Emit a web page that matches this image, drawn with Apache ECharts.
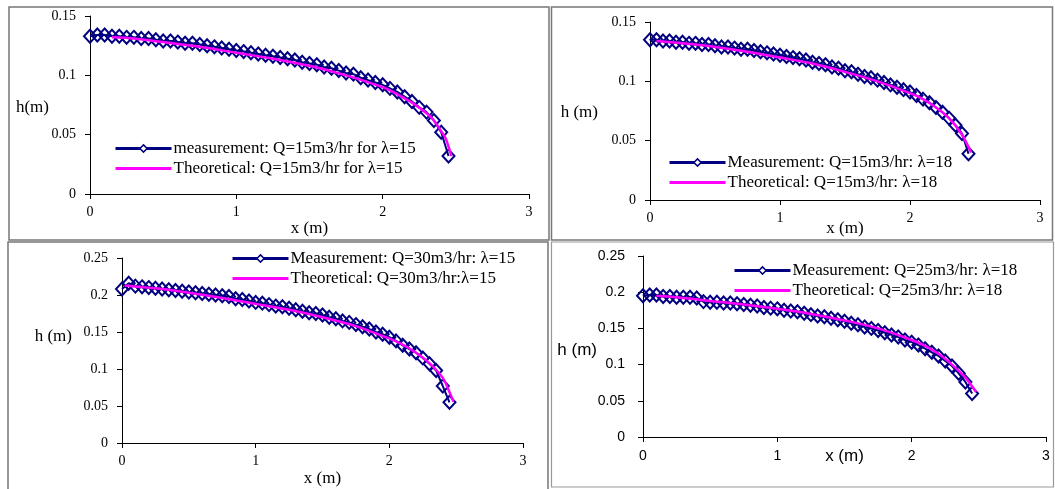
<!DOCTYPE html>
<html>
<head>
<meta charset="utf-8">
<script src="https://cdn.jsdelivr.net/npm/echarts@6/dist/echarts.min.js"></script>
<style>
  html, body { margin: 0; padding: 0; background: #fff; }
  #chart { width: 1055px; height: 489px; }
</style>
</head>
<body>
<div id="chart"></div>
<script>
// Measured stations along the channel (m)
const xMeas = [0, 0.05, 0.10, 0.15, 0.20, 0.25, 0.30, 0.35, 0.40, 0.45,
  0.50, 0.55, 0.60, 0.65, 0.70, 0.75, 0.80, 0.85, 0.90, 0.95,
  1.00, 1.05, 1.10, 1.15, 1.20, 1.25, 1.30, 1.35, 1.40, 1.45,
  1.50, 1.55, 1.60, 1.65, 1.70, 1.75, 1.80, 1.85, 1.90, 1.95,
  2.00, 2.05, 2.10, 2.15, 2.20, 2.25, 2.30, 2.35, 2.40, 2.45];

// Measured depth h (m), Q=15 m3/hr, λ=15
const hMeas15a = [0.133, 0.134, 0.134, 0.133, 0.133, 0.132, 0.132, 0.131, 0.131, 0.130,
  0.129, 0.129, 0.128, 0.127, 0.127, 0.126, 0.125, 0.124, 0.123, 0.122,
  0.121, 0.120, 0.119, 0.118, 0.117, 0.116, 0.115, 0.114, 0.113, 0.111,
  0.110, 0.109, 0.107, 0.106, 0.104, 0.102, 0.101, 0.098, 0.096, 0.094,
  0.092, 0.089, 0.086, 0.082, 0.078, 0.073, 0.069, 0.062, 0.052, 0.032];
// Measured depth h (m), Q=15 m3/hr, λ=18
const hMeas15b = [0.135, 0.135, 0.134, 0.134, 0.133, 0.133, 0.132, 0.132, 0.131, 0.131,
  0.130, 0.129, 0.129, 0.128, 0.127, 0.127, 0.126, 0.125, 0.124, 0.123,
  0.122, 0.121, 0.120, 0.119, 0.118, 0.116, 0.115, 0.114, 0.112, 0.111,
  0.109, 0.108, 0.106, 0.104, 0.103, 0.101, 0.099, 0.097, 0.095, 0.093,
  0.091, 0.088, 0.085, 0.082, 0.078, 0.074, 0.069, 0.063, 0.056, 0.039];
// Measured depth h (m), Q=30 m3/hr, λ=15
const hMeas30 = [0.208, 0.216, 0.212, 0.211, 0.210, 0.209, 0.208, 0.207, 0.206, 0.205,
  0.204, 0.203, 0.202, 0.201, 0.200, 0.199, 0.198, 0.195, 0.194, 0.192,
  0.190, 0.189, 0.187, 0.185, 0.184, 0.182, 0.180, 0.178, 0.176, 0.175,
  0.173, 0.170, 0.168, 0.165, 0.163, 0.160, 0.157, 0.154, 0.150, 0.147,
  0.143, 0.138, 0.132, 0.127, 0.122, 0.115, 0.107, 0.098, 0.077, 0.055];
// Measured depth h (m), Q=25 m3/hr, λ=18
const hMeas25 = [0.195, 0.196, 0.196, 0.194, 0.194, 0.193, 0.193, 0.193, 0.192, 0.187,
  0.186, 0.186, 0.185, 0.185, 0.184, 0.183, 0.182, 0.181, 0.179, 0.178,
  0.177, 0.175, 0.174, 0.173, 0.171, 0.169, 0.167, 0.166, 0.164, 0.162,
  0.160, 0.157, 0.155, 0.152, 0.150, 0.147, 0.144, 0.141, 0.138, 0.134,
  0.131, 0.127, 0.122, 0.117, 0.112, 0.105, 0.098, 0.088, 0.076, 0.060];

// Theoretical profiles
const xTh15a = [0.15, 0.30, 0.50, 0.75, 1.00, 1.25, 1.50, 1.75, 2.00, 2.10, 2.20, 2.30, 2.35, 2.40, 2.43, 2.47];
const hTh15a = [0.132, 0.131, 0.128, 0.124, 0.119, 0.114, 0.108, 0.100, 0.090, 0.084, 0.077, 0.068, 0.062, 0.053, 0.047, 0.032];
const xTh15b = [0.05, 0.25, 0.50, 0.75, 1.00, 1.25, 1.50, 1.75, 2.00, 2.10, 2.20, 2.30, 2.40, 2.47];
const hTh15b = [0.134, 0.132, 0.129, 0.125, 0.120, 0.115, 0.108, 0.100, 0.090, 0.085, 0.078, 0.069, 0.055, 0.040];
const xTh30 = [0.02, 0.25, 0.50, 0.75, 1.00, 1.25, 1.50, 1.75, 2.00, 2.10, 2.20, 2.30, 2.40, 2.44, 2.48];
const hTh30 = [0.213, 0.209, 0.203, 0.196, 0.188, 0.180, 0.170, 0.158, 0.141, 0.133, 0.122, 0.108, 0.088, 0.073, 0.056];
const xTh25 = [0.10, 0.25, 0.50, 0.75, 1.00, 1.25, 1.50, 1.75, 2.00, 2.10, 2.20, 2.30, 2.40, 2.48];
const hTh25 = [0.195, 0.193, 0.188, 0.183, 0.177, 0.170, 0.161, 0.150, 0.134, 0.126, 0.115, 0.100, 0.082, 0.062];

const SERIF = '"Liberation Serif", "Times New Roman", serif';
const SANS = '"Liberation Sans", Arial, sans-serif';
const NAVY = '#000080';
const PINK = '#FF00FF';

const zip = (xs, ys) => xs.map((x, i) => [x, ys[i]]);

const panels = [
  { grid: { left: 90, top: 16, width: 439, height: 178 }, yMax: 0.15, font: SERIF, yMargin: 14, xMargin: 11,
    yName: 'h(m)', yNamePos: [49, 108], xGap: 26,
    meas: hMeas15a, xTh: xTh15a, hTh: hTh15a,
    nameM: 'measurement: Q=15m3/hr for λ=15', nameT: 'Theoretical: Q=15m3/hr for λ=15',
    legend: { left: 109, top: 135 } },
  { grid: { left: 650, top: 22, width: 390, height: 178 }, yMax: 0.15, font: SERIF, yMargin: 14, xMargin: 11,
    yName: 'h (m)', yNamePos: [598, 113], xGap: 20,
    meas: hMeas15b, xTh: xTh15b, hTh: hTh15b,
    nameM: 'Measurement: Q=15m3/hr: λ=18', nameT: 'Theoretical: Q=15m3/hr: λ=18',
    legend: { left: 663, top: 149 } },
  { grid: { left: 122, top: 258, width: 401, height: 185 }, yMax: 0.25, font: SERIF, yMargin: 14, xMargin: 11,
    yName: 'h (m)', yNamePos: [72, 337], xGap: 27,
    meas: hMeas30, xTh: xTh30, hTh: hTh30,
    nameM: 'Measurement: Q=30m3/hr: λ=15', nameT: 'Theoretical: Q=30m3/hr:λ=15',
    legend: { left: 226, top: 245 } },
  { grid: { left: 643, top: 256, width: 403, height: 181 }, yMax: 0.25, font: SANS, yMargin: 18, xMargin: 12,
    yName: 'h (m)', yNamePos: [597, 350], xGap: 11,
    meas: hMeas25, xTh: xTh25, hTh: hTh25,
    nameM: 'Measurement: Q=25m3/hr: λ=18', nameT: 'Theoretical: Q=25m3/hr: λ=18',
    legend: { left: 728, top: 257 } }
];

const option = {
  animation: false,
  backgroundColor: '#fff',
  grid: [], xAxis: [], yAxis: [], series: [], legend: [],
  graphic: [
    { type: 'rect', shape: { x: 9, y: 7, width: 540, height: 233 }, style: { fill: 'none', stroke: '#777', lineWidth: 1.5 } },
    { type: 'rect', shape: { x: 551.5, y: 7, width: 501, height: 233 }, style: { fill: 'none', stroke: '#777', lineWidth: 1.5 } },
    { type: 'rect', shape: { x: 8, y: 242, width: 540, height: 250 }, style: { fill: 'none', stroke: '#777', lineWidth: 1.5 } },
    { type: 'rect', shape: { x: 551.5, y: 242, width: 502, height: 245 }, style: { fill: 'none', stroke: '#999', lineWidth: 1.2 } }
  ]
};

panels.forEach((p, i) => {
  option.grid.push(Object.assign({ containLabel: false }, p.grid));
  option.xAxis.push({
    type: 'value', gridIndex: i, min: 0, max: 3, interval: 1,
    name: 'x (m)', nameLocation: 'middle', nameGap: p.xGap, nameMoveOverlap: false,
    nameTextStyle: { fontFamily: p.font, fontSize: 17, color: '#000' },
    axisLine: { onZero: false, lineStyle: { color: '#000', width: 1 } },
    axisTick: { show: true, inside: false, length: 5, lineStyle: { color: '#000' } },
    axisLabel: { margin: p.xMargin, fontFamily: p.font, fontSize: 14, color: '#000' },
    splitLine: { show: false }
  });
  option.yAxis.push({
    type: 'value', gridIndex: i, min: 0, max: p.yMax, interval: 0.05,
    axisLine: { onZero: false, lineStyle: { color: '#000', width: 1 } },
    axisTick: { show: true, inside: false, length: 5, lineStyle: { color: '#000' } },
    axisLabel: { margin: p.yMargin, fontFamily: p.font, fontSize: 14, color: '#000',
      formatter: v => String(+v.toFixed(2)) },
    splitLine: { show: false }
  });
  // vertical axis title, written horizontally to the left of the tick labels
  option.graphic.push({
    type: 'text', x: p.yNamePos[0], y: p.yNamePos[1],
    style: { text: p.yName, font: '17px ' + p.font, fill: '#000', align: 'right', verticalAlign: 'middle' }
  });
  option.series.push({
    type: 'line', name: p.nameM, xAxisIndex: i, yAxisIndex: i,
    data: zip(xMeas, p.meas),
    symbol: 'diamond', symbolSize: [12, 13],
    lineStyle: { color: NAVY, width: 2 },
    itemStyle: { color: 'rgba(255,255,255,0)', borderColor: NAVY, borderWidth: 2 },
    z: 2
  });
  option.series.push({
    type: 'line', name: p.nameT, xAxisIndex: i, yAxisIndex: i,
    data: zip(p.xTh, p.hTh),
    symbol: 'none', smooth: 0.3,
    lineStyle: { color: PINK, width: 2.5 },
    itemStyle: { color: PINK },
    z: 3
  });
  option.legend.push({
    data: [
      { name: p.nameM, itemStyle: { color: '#fff', borderColor: NAVY, borderWidth: 1.5 }, lineStyle: { width: 3, color: NAVY } },
      { name: p.nameT, itemStyle: { color: 'rgba(0,0,0,0)', borderWidth: 0, opacity: 0 }, lineStyle: { width: 3, color: PINK } }
    ],
    orient: 'vertical', left: p.legend.left, top: p.legend.top,
    itemWidth: 56, itemHeight: 9, itemGap: 3, selectedMode: false,
    textStyle: { fontFamily: SERIF, fontSize: 17, color: '#000', padding: [0, 0, 0, -3] }
  });
});

const chart = echarts.init(document.getElementById('chart'), null, { renderer: 'canvas' });
chart.setOption(option);
</script>
</body>
</html>
